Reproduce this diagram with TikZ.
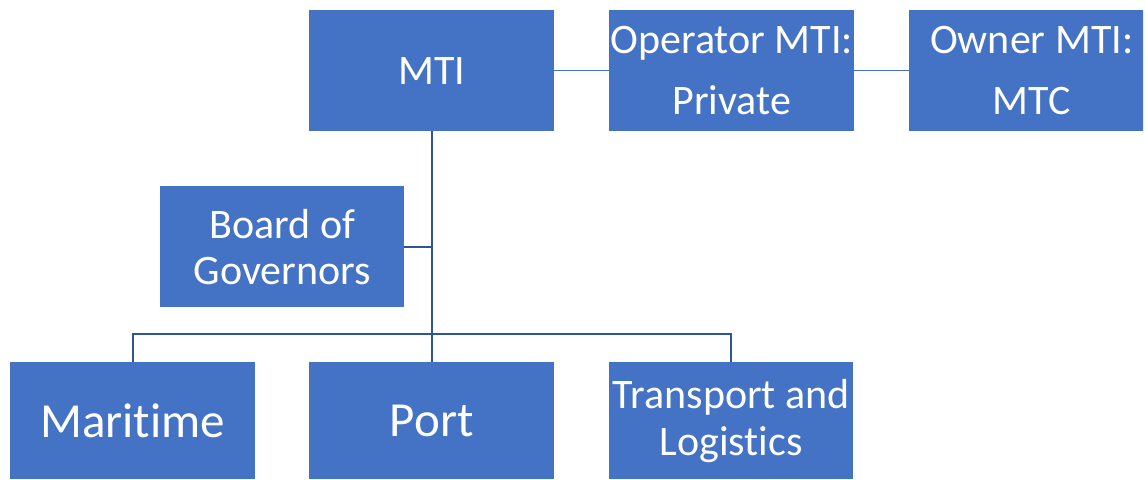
\documentclass[tikz,border=0pt]{standalone}
\usepackage{fontspec}
\setmainfont{Carlito}[Ligatures=NoCommon]
\definecolor{boxblue}{HTML}{4472C4}
\definecolor{linkblue}{HTML}{2F5597}
\tikzset{
  unitbox/.style={rectangle, fill=boxblue, draw=none, inner sep=0pt, anchor=north west,
    text=white, align=center, minimum width=245pt, minimum height=121pt},
  toptext/.style={font=\fontsize{42}{61}\selectfont},
  midtext/.style={font=\fontsize{42}{46}\selectfont},
  lowtext/.style={font=\fontsize{42}{47}\selectfont},
  bigtext/.style={font=\fontsize{49}{55}\selectfont},
  treeline/.style={draw=linkblue, line width=2pt},
  sideline/.style={draw=boxblue, line width=1.3pt}
}
\begin{document}
\begin{tikzpicture}[x=1pt, y=-1pt]
\useasboundingbox (0,0) rectangle (1145,479);
\clip (0,0) rectangle (1143,479);

% top row
\node[unitbox, toptext] (mti) at (309,10) {MTI};
\node[unitbox, toptext] (operator) at (609,10) {Operator MTI:\\Private};
\node[unitbox, toptext] (owner) at (909,10) {Owner MTI:\\MTC};

% board beside the trunk
\node[unitbox, midtext, minimum width=244pt] (board) at (160,186) {Board of\\Governors};

% departments
\node[unitbox, bigtext, minimum height=117pt] (maritime) at (10,362) {Maritime};
\node[unitbox, bigtext, minimum height=117pt] (port) at (309,362) {Port};
\node[unitbox, lowtext, minimum width=244pt, minimum height=117pt] (transport) at (609,362) {Transport and\\Logistics};

% links between the top boxes
\draw[sideline] (mti.east) -- (operator.west);
\draw[sideline] (operator.east) -- (owner.west);

% organisation tree
\coordinate (bus) at (432,334);
\draw[treeline] (mti.south) -- (port.north);
\draw[treeline] (board.east) -- (board.east -| mti.south);
\draw[treeline] (maritime.north) |- (bus) -| (transport.north);
\end{tikzpicture}
\end{document}
